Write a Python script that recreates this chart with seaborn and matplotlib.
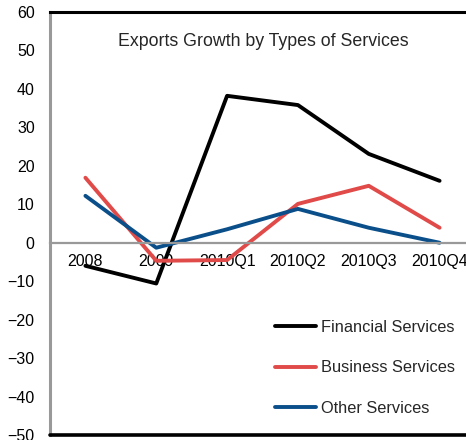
import matplotlib
matplotlib.use("Agg")
import matplotlib.pyplot as plt
import seaborn as sns
import pandas as pd

periods = ["2008", "2009", "2010Q1", "2010Q2", "2010Q3", "2010Q4"]
financial = [-6.0, -10.6, 38.2, 35.8, 23.1, 16.1]
business = [16.9, -4.7, -4.5, 10.1, 14.8, 3.9]
other = [12.2, -1.3, 3.5, 8.8, 3.9, 0.0]
series_names = ["Financial Services", "Business Services", "Other Services"]
colors = ["#000000", "#E04A48", "#0B4F8A"]
y_ticks = [60, 50, 40, 30, 20, 10, 0, -10, -20, -30, -40, -50]

df = pd.DataFrame({
    "period": periods * 3,
    "pos": list(range(len(periods))) * 3,
    "value": financial + business + other,
    "series": [n for n in series_names for _ in periods],
})

sns.set_theme(style="white")
plt.rcParams["font.family"] = ["Liberation Sans", "DejaVu Sans"]

fig = plt.figure(figsize=(4.66, 4.40), dpi=100)
ax = fig.add_axes([50 / 466, 1 - 435 / 440, 425 / 466, 423 / 440])

sns.lineplot(data=df, x="pos", y="value", hue="series", hue_order=series_names,
             palette=colors, linewidth=2.8, sort=False, ax=ax, legend=True)

ax.set_xlim(-0.5, 5.5)
ax.set_ylim(-50, 60)
ax.set_yticks(y_ticks)
ax.set_xticks(range(len(periods)))
ax.set_xticklabels(periods)
ax.set_xlabel("")
ax.set_ylabel("")

# category axis runs along the zero line
ax.spines["bottom"].set_position(("data", 0))
ax.spines["bottom"].set_color("#999999")
ax.spines["bottom"].set_linewidth(1.6)
ax.spines["left"].set_color("#999999")
ax.spines["left"].set_linewidth(2.2)
ax.spines["top"].set_color("#000000")
ax.spines["top"].set_linewidth(2.2)
ax.spines["right"].set_visible(False)
ax.axhline(-50, color="#000000", linewidth=2.6, clip_on=False, zorder=5)

ax.tick_params(axis="x", length=0, pad=8, labelsize=11.5, colors="#000000")
ax.tick_params(axis="y", length=0, pad=11, labelsize=11.5, colors="#000000")

ax.text(263 / 466, 1 - 42 / 440, "Exports Growth by Types of Services",
        transform=fig.transFigure, ha="center", va="center", fontsize=12.8)

handles, labels = ax.get_legend_handles_labels()
ax.legend(handles, labels, loc="center left", frameon=False,
          bbox_to_anchor=(262 / 466, 1 - 368 / 440), bbox_transform=fig.transFigure,
          handlelength=2.5, handletextpad=0.3, labelspacing=1.55, fontsize=11.8,
          borderpad=0.3)

fig.savefig("out.png", dpi=100)
